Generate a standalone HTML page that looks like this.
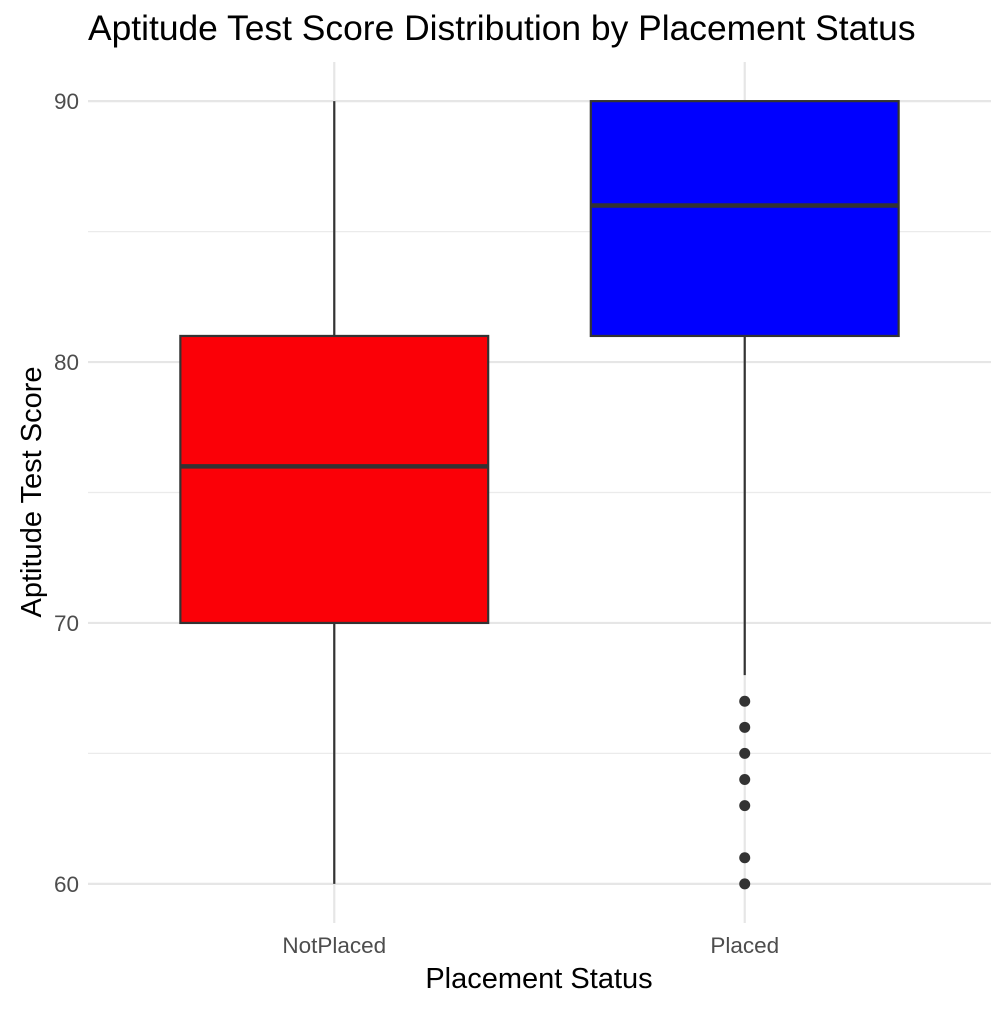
<!DOCTYPE html>
<html><head><meta charset="utf-8"><style>
body{margin:0;background:#fff;}
svg text{font-family:"Liberation Sans",Arial,sans-serif;}
</style></head><body>
<svg id="chart" width="1006" height="1008" xmlns="http://www.w3.org/2000/svg">
<text x="88" y="40" font-size="35.4" fill="#000">Aptitude Test Score Distribution by Placement Status</text>
<g id="grid"></g><g id="marks"></g><g id="axes"></g>
<text x="539" y="988" font-size="29" text-anchor="middle" fill="#000">Placement Status</text>
<text transform="translate(41,492) rotate(-90)" font-size="29" text-anchor="middle" fill="#000">Aptitude Test Score</text>
</svg>
<script>
const categories=["NotPlaced","Placed"];
const fills=["#FB0007","#0000FF"];
const lowerWhisker=[60,68];
const q1=[70,81];
const median=[76,86];
const q3=[81,90];
const upperWhisker=[90,90];
const outliers=[[],[67,66,65,64,63,61,60]];
const yTicks=[60,70,80,90];
const yMinor=[65,75,85];

const NS="http://www.w3.org/2000/svg";
const L=88,R=991,T=62,B=923,ymin=58.5,ymax=91.5;
const y=v=>B-(v-ymin)/(ymax-ymin)*(B-T);
const step=(R-L)/(categories.length+0.2);
const x=i=>L+step*(0.6+i);
function mk(tag,attrs,parent){const e=document.createElementNS(NS,tag);for(const k in attrs)e.setAttribute(k,attrs[k]);document.getElementById(parent).appendChild(e);return e;}
yMinor.forEach(v=>{const e=mk('line',{x1:L,x2:R,y1:y(v),y2:y(v),stroke:'#ebebeb','stroke-width':1.2},'grid');

});
yTicks.forEach(v=>{const e=mk('line',{x1:L,x2:R,y1:y(v),y2:y(v),stroke:'#e6e6e6','stroke-width':2.2},'grid');


const t=mk('text',{x:L-9,y:y(v)+8,'font-size':22.5,'text-anchor':'end',fill:'#4d4d4d'},'axes');t.textContent=v;

});
categories.forEach((c,i)=>{const cx=x(i);
const g=mk('line',{x1:cx,x2:cx,y1:T,y2:B,stroke:'#e6e6e6','stroke-width':2.2},'grid');


const t=mk('text',{x:cx,y:953,'font-size':22.5,'text-anchor':'middle',fill:'#4d4d4d'},'axes');t.textContent=c;


const hw=step*0.375;
const w1=mk('line',{x1:cx,x2:cx,y1:y(upperWhisker[i]),y2:y(q3[i]),stroke:'#333','stroke-width':2.2},'marks');


const w2=mk('line',{x1:cx,x2:cx,y1:y(q1[i]),y2:y(lowerWhisker[i]),stroke:'#333','stroke-width':2.2},'marks');


const b=mk('rect',{x:cx-hw,y:y(q3[i]),width:2*hw,height:y(q1[i])-y(q3[i]),fill:fills[i],stroke:'#333','stroke-width':2.2},'marks');


const m=mk('line',{x1:cx-hw,x2:cx+hw,y1:y(median[i]),y2:y(median[i]),stroke:'#333','stroke-width':4.5},'marks');


outliers[i].forEach(v=>{const p=mk('circle',{cx:cx,cy:y(v),r:5.5,fill:'#333'},'marks');

});
});
</script>
</body></html>
